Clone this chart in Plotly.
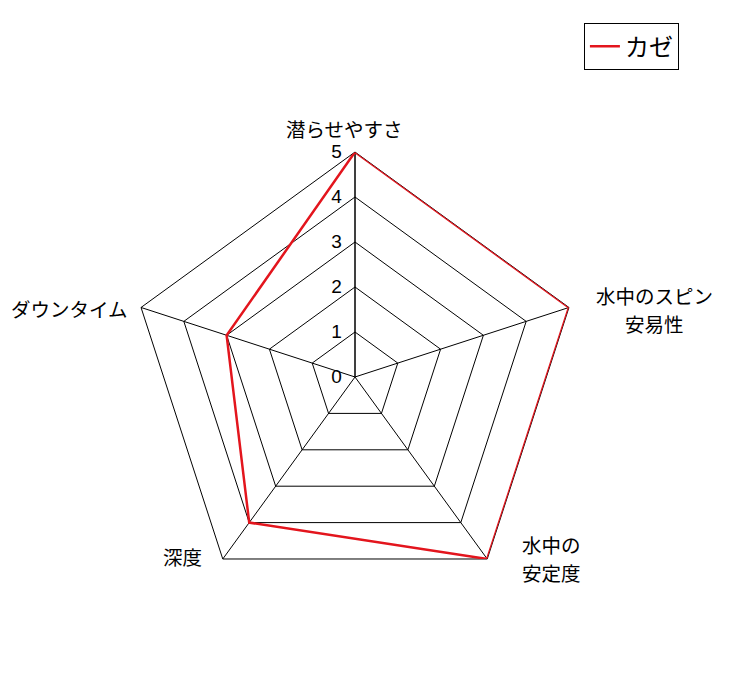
import plotly.graph_objects as go

# レーダーチャートの項目と評価値
categories = ['潜らせやすさ', '水中のスピン<br>安易性', '水中の<br>安定度', '深度', 'ダウンタイム']
values = [5, 5, 5, 4, 3]
series_name = 'カゼ'
radial_ticks = [0, 1, 2, 3, 4, 5]

# 項目ラベルの表示位置 (paper座標, Excel風に配置)
label_x = [0.461, 0.8875, 0.7462, 0.2387, 0.0850]
label_y = [0.8263, 0.5630, 0.2040, 0.2069, 0.5658]

jp_font = 'Noto Sans CJK JP'
W, H = 729, 691
line_gap = 28 / H

fig = go.Figure()
fig.add_trace(go.Scatterpolar(
    r=values + values[:1],
    theta=categories + categories[:1],
    mode='lines',
    name=series_name,
    line=dict(color='#e3151d', width=2.5),
))

# 複数行ラベルは1行ずつ置く
for text, lx, ly in zip(categories, label_x, label_y):
    lines = text.split('<br>')
    n = len(lines)
    for i, s in enumerate(lines):
        fig.add_annotation(
            x=lx, y=ly + ((n - 1) / 2 - i) * line_gap,
            xref='paper', yref='paper',
            text=s, showarrow=False,
            xanchor='center', yanchor='middle',
            font=dict(family=jp_font, size=19.5, color='black'),
        )

fig.update_layout(
    width=W, height=H,
    margin=dict(l=0, r=0, t=0, b=0),
    paper_bgcolor='white',
    font=dict(family=jp_font, size=20, color='black'),
    showlegend=True,
    legend=dict(
        x=0.790, y=0.978, xanchor='left', yanchor='top',
        bordercolor='black', borderwidth=1, bgcolor='white',
        itemwidth=30,
        font=dict(family=jp_font, size=24),
    ),
    polar=dict(
        domain=dict(x=[0.1674, 0.7846], y=[0.1404, 0.7916]),
        bgcolor='white',
        gridshape='linear',
        angularaxis=dict(
            direction='clockwise', rotation=90,
            showline=True, linecolor='black', linewidth=1,
            gridcolor='black', gridwidth=1,
            ticks='', showticklabels=False,
            layer='below traces',
        ),
        radialaxis=dict(
            range=[0, 5], tickvals=radial_ticks, angle=90,
            side='counterclockwise', tickangle=90,
            showline=True, linecolor='black', linewidth=1,
            gridcolor='black', gridwidth=1,
            ticks='outside', ticklen=6, tickcolor='rgba(0,0,0,0)',
            tickfont=dict(family='Liberation Sans', size=19),
            layer='below traces',
        ),
    ),
)

fig.write_html('out.html')
